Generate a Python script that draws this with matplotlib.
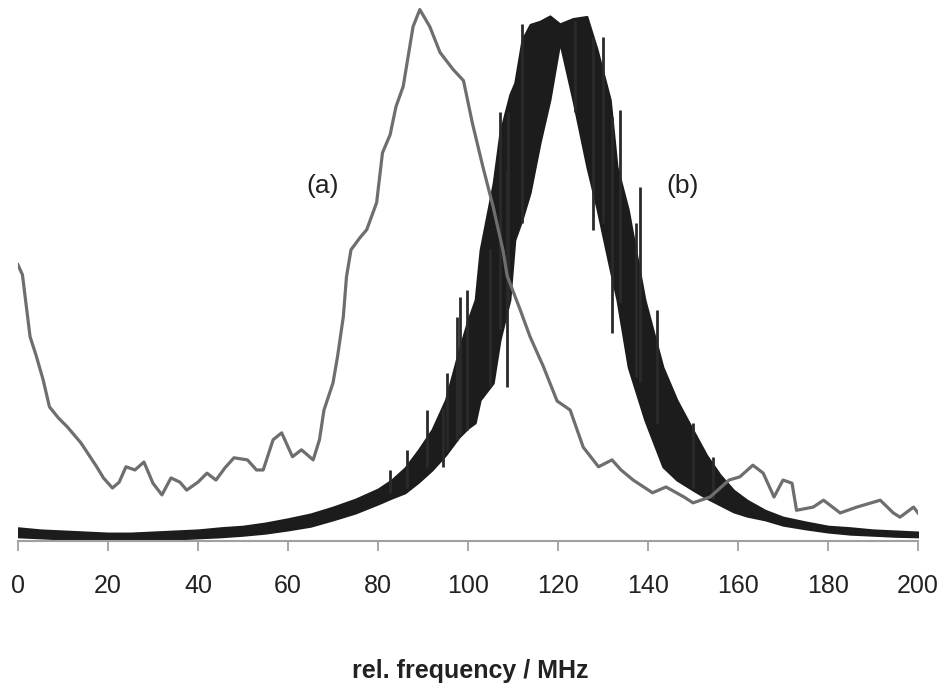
import matplotlib.pyplot as plt
import numpy as np

plt.rcParams['font.family'] = ['Liberation Sans', 'DejaVu Sans']

# Kurve (a): grau, Frequenz in MHz, Intensitaet in willkuerlichen Einheiten
freq_a = [0, 1, 2.7, 4, 5.6, 7, 9, 11, 14, 17.5, 19, 21, 22.5, 24, 26, 28, 30,
          32, 34, 36, 37.5, 40, 42, 44, 46, 48, 51, 53, 54.5, 56.7, 58.6, 61,
          63, 65.6, 67, 68, 70, 71, 72.3, 73, 74, 76, 77.5, 79.7, 81, 82.7, 84,
          85.6, 87.8, 89.3, 91.5, 93.8, 96.7, 99, 101, 103.3, 105.6, 107.8,
          108.7, 111.6, 113.8, 116.7, 119.8, 122.7, 125.6, 129, 132, 134,
          136.7, 141, 144, 148, 150, 153.8, 158, 160.4, 163.3, 165.6, 168, 170,
          172, 173, 176.7, 179, 182.7, 186.4, 191.6, 194.5, 196, 199, 200]
int_a = [0.521, 0.502, 0.385, 0.351, 0.304, 0.253, 0.232, 0.215, 0.185, 0.140,
         0.119, 0.100, 0.111, 0.140, 0.134, 0.149, 0.109, 0.087, 0.119, 0.111,
         0.096, 0.111, 0.128, 0.115, 0.138, 0.157, 0.153, 0.134, 0.134, 0.191,
         0.204, 0.159, 0.172, 0.153, 0.191, 0.247, 0.298, 0.347, 0.423, 0.498,
         0.549, 0.572, 0.587, 0.638, 0.732, 0.766, 0.819, 0.857, 0.970, 1.002,
         0.970, 0.921, 0.889, 0.868, 0.787, 0.706, 0.630, 0.547, 0.500, 0.436,
         0.385, 0.330, 0.264, 0.247, 0.177, 0.140, 0.153, 0.134, 0.115, 0.091,
         0.102, 0.083, 0.072, 0.083, 0.115, 0.121, 0.143, 0.128, 0.083, 0.115,
         0.109, 0.058, 0.064, 0.077, 0.053, 0.064, 0.077, 0.053, 0.045, 0.064,
         0.053]

# Kurve (b): schwarz, stark oszillierend -> obere und untere Einhuellende
freq_b = [0, 5, 10, 15, 20, 25, 30, 35, 40, 45, 50, 55, 60, 65, 70, 75, 80,
          83, 86, 89, 92, 95, 98, 100, 101.6, 102.7, 105.6, 107.1, 109.3,
          110.4, 112, 113.8, 116, 118.2, 120.4, 123.3, 126.4, 128.7, 131.6,
          133.1, 135.6, 139.3, 143.3, 146.4, 150, 153, 156, 159, 162, 166,
          170, 175, 180, 185, 190, 195, 200]
upper_b = [0.025, 0.021, 0.019, 0.017, 0.015, 0.015, 0.017, 0.019, 0.021,
           0.025, 0.028, 0.034, 0.042, 0.051, 0.064, 0.079, 0.098, 0.115,
           0.138, 0.172, 0.210, 0.266, 0.360, 0.417, 0.455, 0.549, 0.675,
           0.770, 0.842, 0.864, 0.945, 0.974, 0.980, 0.990, 0.975, 0.985,
           0.989, 0.926, 0.832, 0.706, 0.625, 0.455, 0.328, 0.266, 0.209,
           0.162, 0.125, 0.096, 0.077, 0.058, 0.045, 0.036, 0.028, 0.025,
           0.021, 0.019, 0.017]
lower_b = [0.008, 0.006, 0.004, 0.004, 0.002, 0.002, 0.004, 0.004, 0.006,
           0.008, 0.011, 0.015, 0.021, 0.028, 0.040, 0.053, 0.070, 0.081,
           0.091, 0.111, 0.134, 0.162, 0.196, 0.213, 0.223, 0.266, 0.298,
           0.379, 0.455, 0.568, 0.606, 0.657, 0.751, 0.832, 0.940, 0.832,
           0.706, 0.625, 0.511, 0.455, 0.328, 0.228, 0.140, 0.115, 0.096,
           0.081, 0.068, 0.055, 0.047, 0.040, 0.030, 0.023, 0.017, 0.013,
           0.011, 0.009, 0.008]

# einzelne Spitzen der Oszillation (Frequenz, unten, oben)
spike_f = [82.7, 86.4, 91.0, 94.4, 95.3, 97.6, 98.2, 99.8, 104.9, 107.1,
           108.7, 108.9, 112.0, 123.8, 127.8, 130.0, 132.0, 133.8, 137.3,
           138.2, 142.0, 150.0, 154.4]
spike_lo = [0.09, 0.10, 0.14, 0.140, 0.17, 0.19, 0.20, 0.21, 0.291, 0.40,
            0.291, 0.45, 0.60, 0.808, 0.587, 0.60, 0.392, 0.45, 0.309,
            0.30, 0.22, 0.10, 0.08]
spike_hi = [0.134, 0.172, 0.247, 0.25, 0.317, 0.423, 0.460, 0.474, 0.55, 0.808,
            0.70, 0.808, 0.974, 0.98, 0.95, 0.951, 0.80, 0.813, 0.60,
            0.668, 0.436, 0.223, 0.158]

xticks = np.arange(0, 201, 20)

fig = plt.figure(figsize=(9.44, 6.84), dpi=100)
ax = fig.add_axes([0.019, 0.209, 0.9535, 0.784])

ax.fill_between(freq_b, lower_b, upper_b, color='#1c1c1c', lw=1.5,
                edgecolor='#1c1c1c', zorder=2)
ax.vlines(spike_f, spike_lo, spike_hi, color='#2a2a2a', lw=2.0, zorder=2)
ax.plot(freq_a, int_a, color='#6e6e6e', lw=2.3, zorder=3)

ax.text(67.6, 0.67, '(a)', fontsize=19, ha='center', va='center', color='#222222')
ax.text(147.6, 0.67, '(b)', fontsize=19, ha='center', va='center', color='#222222')

ax.set_xlim(0, 200)
ax.set_ylim(0, 1.011)
for s in ['left', 'right', 'top']:
    ax.spines[s].set_visible(False)
ax.spines['bottom'].set_color('#a0a0a0')
ax.spines['bottom'].set_linewidth(1.5)
ax.set_yticks([])
ax.set_xticks(xticks)
ax.tick_params(axis='x', direction='out', length=7, width=1.3, color='#a0a0a0',
               labelsize=18, pad=17, labelcolor='#222222')

fig.text(470 / 944, 1 - 671 / 684, 'rel. frequency / MHz', fontsize=18,
         fontweight='bold', ha='center', va='center', color='#222222')

plt.savefig('out.png', dpi=100)
